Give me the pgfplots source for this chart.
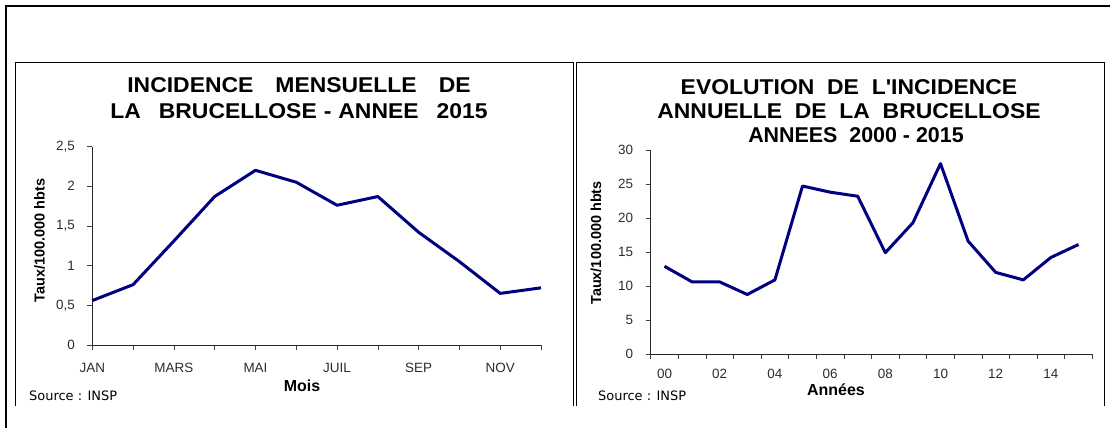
\documentclass[border=0pt]{standalone}
\usepackage{fontspec}
\setmainfont{Liberation Sans}[Ligatures=TeXOff]
\newfontfamily\titlefont{Liberation Sans}[Ligatures=TeXOff, FakeStretch=1.07]
\newfontfamily\srcfont{DejaVu Sans}
\usepackage{pgfplots}
\usepackage{pgfplotstable}
\pgfplotsset{compat=1.18}

\definecolor{serie}{RGB}{0,0,128}
\definecolor{ticktext}{RGB}{45,45,45}

% Incidence mensuelle 2015 (taux / 100.000 habitants)
\pgfplotstableread{
mois val
0  0.56
1  0.76
2  1.31
3  1.87
4  2.20
5  2.05
6  1.76
7  1.87
8  1.42
9  1.05
10 0.65
11 0.72
}\mensuel

% Incidence annuelle 2000-2015 (taux / 100.000 habitants)
\pgfplotstableread{
an val
0  12.9
1  10.6
2  10.6
3  8.75
4  10.9
5  24.7
6  23.8
7  23.2
8  14.9
9  19.3
10 28.0
11 16.6
12 12.0
13 10.9
14 14.2
15 16.1
}\annuel

\pgfplotsset{
  panel/.style={
    scale only axis,
    anchor=south west,
    axis x line*=bottom,
    axis y line*=left,
    axis line style={black!85, line width=0.8bp},
    tick align=outside,
    major tick length=5bp,
    tick style={black!75, line width=0.6bp},
    ticklabel style={font=\fontsize{13.5}{15}\selectfont, text=ticktext},
    yticklabel style={xshift=-9bp},
    /pgf/number format/assume math mode=true,
    /pgf/number format/use comma,
    clip=false,
  }
}

\begin{document}
\begin{tikzpicture}[x=1bp,y=1bp]
\path[use as bounding box] (0,0) rectangle (1110,428);

% cadre general et cadres des deux graphiques
\draw[line width=2bp] (6,0) -- (6,422) -- (1110,422);
\draw[line width=0.8bp] (15.7,22) -- (15.7,366) -- (573,366) -- (573,22);
\draw[line width=0.8bp] (576,22) -- (576,366) -- (1104,366) -- (1104,22);

% --- incidence mensuelle ---
\begin{axis}[panel,
  at={(92.3bp,83bp)},
  width=448.7bp, height=198.5bp,
  xmin=0, xmax=11, ymin=0, ymax=2.5,
  xtick={0,...,11},
  xticklabels={JAN,,MARS,,MAI,,JUIL,,SEP,,NOV,},
  xticklabel style={yshift=-10bp},
  ytick={0,0.5,1,1.5,2,2.5},
]
\addplot[serie, line width=3bp, line join=round] table[x=mois,y=val]{\mensuel};
\end{axis}

% --- incidence annuelle ---
\begin{axis}[panel,
  at={(650.7bp,74bp)},
  width=441.6bp, height=204bp,
  xmin=-0.5, xmax=15.5, ymin=0, ymax=30,
  xtick={-0.5,0.5,...,15.5},
  xticklabels={},
  extra x ticks={0,2,...,14},
  extra x tick labels={00,02,04,06,08,10,12,14},
  extra x tick style={major tick length=0pt, xticklabel style={yshift=-12bp}},
  ytick={0,5,...,30},
]
\addplot[serie, line width=3bp, line join=round] table[x=an,y=val]{\annuel};
\end{axis}

% titres
\node[align=center, font=\titlefont\fontsize{21.5}{26}\selectfont\bfseries] at (299,329.5)
  {INCIDENCE\hspace{22bp}MENSUELLE\hspace{22bp}DE\\LA\hspace{18bp}BRUCELLOSE\hspace{7bp}-\hspace{7bp}ANNEE\hspace{18bp}2015};
\node[align=center, font=\titlefont\fontsize{21.5}{24.5}\selectfont\bfseries] at (849,329)
  {EVOLUTION\ \ DE\ \ L'INCIDENCE\\ANNUELLE\ \ DE\ \ LA\ \ BRUCELLOSE};
\node[font=\fontsize{21.5}{24.5}\selectfont\bfseries] at (856,292.5)
  {ANNEES\ \ 2000 - 2015};

% titres des axes
\node[rotate=90, font=\fontsize{14.5}{16}\selectfont\bfseries] at (39.5,187.5) {Taux/100.000 hbts};
\node[rotate=90, font=\fontsize{14.5}{16}\selectfont\bfseries] at (596,185) {Taux/100.000 hbts};
\node[font=\fontsize{16}{18}\selectfont\bfseries] at (302,42) {Mois};
\node[font=\fontsize{16}{18}\selectfont\bfseries] at (836,38) {Années};

% sources
\node[anchor=west, inner sep=0, font=\srcfont\fontsize{13}{15}\selectfont] at (29,32.3) {Source : INSP};
\node[anchor=west, inner sep=0, font=\srcfont\fontsize{13}{15}\selectfont] at (598,32.3) {Source : INSP};
\end{tikzpicture}
\end{document}
